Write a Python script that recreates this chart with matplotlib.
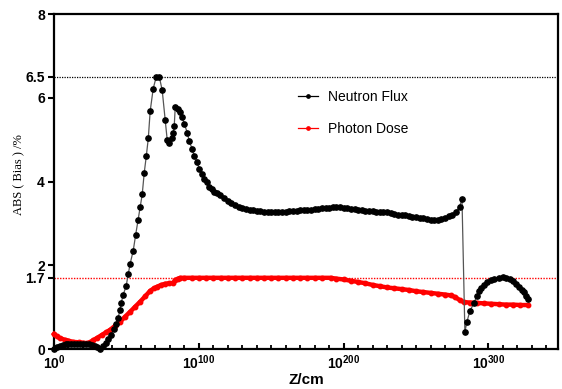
import matplotlib
matplotlib.use("Agg")
import matplotlib.pyplot as plt
from matplotlib.ticker import MultipleLocator
from matplotlib.lines import Line2D

plt.rcParams['font.family'] = ['Liberation Sans', 'DejaVu Sans']
plt.rcParams['mathtext.fontset'] = 'custom'
plt.rcParams['mathtext.rm'] = 'Liberation Sans:bold'
plt.rcParams['mathtext.it'] = 'Liberation Sans:bold'
plt.rcParams['mathtext.bf'] = 'Liberation Sans:bold'
plt.rcParams['mathtext.default'] = 'rm'

# ---- data (x = exponent of Z/cm, y = ABS(Bias) %) ----
neutron_x = [0, 2, 4, 6, 8, 10, 12, 14, 16, 18, 20, 22, 24, 26, 28, 30,
             31.8, 33.9, 36, 37.4, 39.4, 41.5, 42.9, 44.3, 45.4, 46.4, 47.8, 49.8, 51.2,
             52.6, 54.7, 56.4, 58.1, 59.5, 60.9, 62.3, 63.7, 65.1, 66.4, 68.5, 70.6,
             72.7, 74.7, 76.8, 78.2, 79.6, 81.7, 82.4, 83.0, 83.7, 85.8, 87.2, 88.6,
             90.0, 92.0, 93.4, 95.5, 96.9, 99.0, 100.3, 102.4, 103.8, 105.9, 107.3,
             109.3, 110.7, 112.8, 114.9,
             117.5, 120, 122.5, 125, 127.5, 130, 132.5, 135, 137.5, 140, 142.5, 145,
             147.5, 150, 152.5, 155, 157.5, 160, 162.5, 165, 167.5, 170, 172.5, 175,
             177.5, 180, 182.5, 185, 187.5, 190, 192.5, 195, 197.5, 200, 202.5, 205,
             207.5, 210, 212.5, 215, 217.5, 220, 222.5, 225, 227.5, 230, 232.5, 235,
             237.5, 240, 242.5, 245, 247.5, 250, 252.5, 255, 257.5, 260, 262.5, 265,
             267.5, 270, 272.5, 275, 277.5, 280, 281.7,
             283.7, 285.1, 287.2, 290, 292, 293.4, 295, 296.9, 299, 301.7, 304, 307.3,
             310, 312.1, 315, 317, 319, 321.1, 323, 324.6, 326, 327.3]
neutron_y = [0.0, 0.05, 0.08, 0.10, 0.11, 0.12, 0.12, 0.12, 0.12, 0.12, 0.12, 0.11, 0.11, 0.10, 0.08, 0.04,
             0.0, 0.07, 0.15, 0.24, 0.34, 0.47, 0.60, 0.74, 0.92, 1.10, 1.30, 1.50, 1.78,
             2.04, 2.35, 2.73, 3.09, 3.40, 3.69, 4.21, 4.60, 5.03, 5.68, 6.22, 6.50,
             6.50, 6.18, 5.46, 4.98, 4.93, 5.03, 5.17, 5.32, 5.77, 5.72, 5.65, 5.53,
             5.37, 5.17, 4.96, 4.77, 4.60, 4.46, 4.29, 4.17, 4.07, 3.98, 3.88,
             3.83, 3.76, 3.72, 3.68,
             3.61, 3.54, 3.48, 3.44, 3.40, 3.37, 3.34, 3.32, 3.31, 3.30, 3.29, 3.28,
             3.28, 3.28, 3.28, 3.28, 3.28, 3.28, 3.29, 3.29, 3.30, 3.31, 3.32, 3.33,
             3.33, 3.34, 3.35, 3.36, 3.37, 3.37, 3.38, 3.38, 3.38, 3.37, 3.36, 3.35,
             3.34, 3.32, 3.31, 3.30, 3.30, 3.29, 3.28, 3.27, 3.27, 3.26, 3.24, 3.23,
             3.21, 3.20, 3.19, 3.18, 3.16, 3.15, 3.14, 3.12, 3.10, 3.08, 3.07, 3.09,
             3.11, 3.14, 3.17, 3.21, 3.28, 3.40, 3.58,
             0.41, 0.65, 0.91, 1.10, 1.27, 1.38, 1.46, 1.53, 1.59, 1.65, 1.68, 1.70,
             1.71, 1.70, 1.66, 1.62, 1.56, 1.49, 1.42, 1.35, 1.27, 1.20]

photon_x = [0, 2, 4, 7.6, 10, 13.1, 17, 20.1, 22.8, 25, 27, 30, 33.2, 36, 38.8, 42,
            45.7, 49, 52.6, 56, 59.5, 63, 66.4, 69, 71.3, 74, 76.8, 79.5, 82.4, 83.7,
            85.5, 87.2, 90, 95, 100, 105, 110, 115, 120, 125, 130, 135, 140, 145, 150,
            155, 160, 165, 170, 175, 180, 185, 191, 195, 200, 205, 210, 215, 220, 225,
            230, 235, 240, 245, 250, 255, 260, 265, 270, 274, 277, 280, 283, 287, 292,
            297, 302, 307, 312, 317, 322, 327]
photon_y = [0.36, 0.30, 0.26, 0.22, 0.20, 0.17, 0.16, 0.15, 0.14, 0.16, 0.21, 0.27, 0.34, 0.40, 0.46, 0.55,
            0.65, 0.77, 0.89, 1.01, 1.13, 1.26, 1.39, 1.45, 1.49, 1.53, 1.56, 1.57, 1.58, 1.65,
            1.68, 1.70, 1.70, 1.70, 1.70, 1.70, 1.70, 1.70, 1.70, 1.70, 1.70, 1.70, 1.70, 1.70, 1.70,
            1.70, 1.70, 1.70, 1.70, 1.70, 1.70, 1.70, 1.70, 1.68, 1.66, 1.63, 1.60, 1.57, 1.53, 1.50,
            1.47, 1.45, 1.43, 1.41, 1.38, 1.36, 1.34, 1.32, 1.30, 1.28, 1.24, 1.17, 1.12, 1.11, 1.10,
            1.09, 1.08, 1.07, 1.06, 1.06, 1.05, 1.05]

ref_neutron = 6.5
ref_photon = 1.7
y_ticks = [0, 1.7, 2, 4, 6, 6.5, 8]
y_tick_labels = ['0', '1.7', '2', '4', '6', '6.5', '8']
x_ticks = [0, 100, 200, 300]
x_tick_labels = [r'$10^{0}$', r'$10^{100}$', r'$10^{200}$', r'$10^{300}$']
series_labels = ['Neutron Flux', 'Photon Dose']

fig = plt.figure(figsize=(5.62, 3.89), dpi=100)
ax = fig.add_axes([0.0961, 0.1028, 0.8968, 0.8612])

ax.plot(photon_x, photon_y, color='#ff0000', lw=3.2, marker='o', ms=3.2,
        mec='#ff0000', mfc='#ff0000', zorder=3, clip_on=False)
ax.plot(neutron_x, neutron_y, color='#555555', lw=0.9, marker='o', ms=3.8,
        mec='black', mfc='black', zorder=4, clip_on=False)

ax.axhline(ref_neutron, color='black', ls=(0, (1, 1.0)), lw=0.9, zorder=2)
ax.axhline(ref_photon, color='#ff0000', ls=(0, (1, 1.0)), lw=1.0, zorder=2)

ax.set_xlim(0, 348)
ax.set_ylim(0, 8)
ax.set_yticks(y_ticks)
ax.set_yticklabels(y_tick_labels, fontweight='bold', fontsize=10)
ax.set_xticks(x_ticks)
ax.set_xticklabels(x_tick_labels, fontsize=10)
ax.xaxis.set_minor_locator(MultipleLocator(10))

for s in ax.spines.values():
    s.set_linewidth(1.6)
ax.tick_params(axis='y', direction='out', length=4.5, width=1.5, pad=2)
ax.tick_params(axis='x', which='major', direction='in', length=4.5, width=1.5, pad=3)
ax.tick_params(axis='x', which='minor', direction='in', length=3, width=1.3)

ax.set_xlabel('Z/cm', fontweight='bold', fontsize=11, labelpad=1)
ax.set_ylabel('ABS ( Bias ) /%', family=['Liberation Serif', 'DejaVu Serif'], fontsize=9)
ax.yaxis.set_label_coords(-0.057, 0.52)

handles = [Line2D([], [], color='black', lw=0.9, marker='o', ms=2.4),
           Line2D([], [], color='#ff0000', lw=0.9, marker='o', ms=2.4)]
ax.legend(handles, series_labels, loc='upper left', bbox_to_anchor=(0.46, 0.81),
          frameon=False, fontsize=10, labelspacing=1.3, handlelength=1.4,
          handletextpad=0.7)

fig.savefig('out.png', dpi=100)
